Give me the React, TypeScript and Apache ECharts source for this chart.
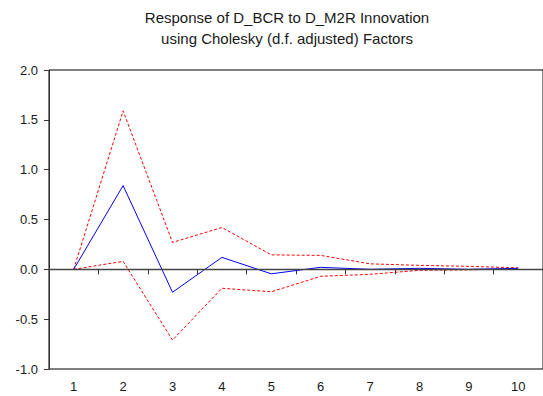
import React, { useEffect, useRef } from "react";
import * as echarts from "echarts";

const periods = ["1", "2", "3", "4", "5", "6", "7", "8", "9", "10"];
const response = [0, 0.84, -0.23, 0.12, -0.045, 0.02, 0.0, 0.01, 0.0, 0.01];
const upperBand = [0, 1.59, 0.27, 0.42, 0.145, 0.14, 0.055, 0.04, 0.03, 0.015];
const lowerBand = [0, 0.08, -0.71, -0.19, -0.225, -0.07, -0.05, -0.01, -0.005, 0.005];
const titleLines = ["Response of D_BCR to D_M2R Innovation", "using Cholesky (d.f. adjusted) Factors"];

export default function App() {
  const ref = useRef<HTMLDivElement>(null);
  useEffect(() => {
    if (!ref.current) return;
    const chart = echarts.init(ref.current, null, { renderer: "svg" });
    const font = "'Liberation Sans', Arial, sans-serif";
    chart.setOption({
      animation: false,
      title: {
        text: titleLines.join("\n"),
        left: 282,
        top: 2,
        textAlign: "center",
        textStyle: {
          fontFamily: font,
          fontSize: 15,
          fontWeight: "normal",
          color: "#1a1a1a",
          lineHeight: 21,
          align: "center",
        },
      },
      grid: {
        left: 49,
        top: 70,
        width: 496,
        height: 299,
        show: true,
        borderColor: "#000",
        borderWidth: 1,
        backgroundColor: "transparent",
      },
      xAxis: {
        type: "category",
        data: periods,
        boundaryGap: true,
        axisLine: { show: true, lineStyle: { color: "#333", width: 1 } },
        axisTick: { show: true, inside: false, alignWithLabel: false, length: 5, lineStyle: { color: "#333" } },
        axisLabel: { fontFamily: font, fontSize: 13, color: "#1a1a1a", margin: 11 },
        splitLine: { show: false },
      },
      yAxis: {
        type: "value",
        min: -1,
        max: 2,
        interval: 0.5,
        axisLine: { show: true, lineStyle: { color: "#333", width: 1 } },
        axisTick: { show: true, inside: false, length: 5, lineStyle: { color: "#333" } },
        axisLabel: {
          fontFamily: font,
          fontSize: 13,
          color: "#1a1a1a",
          margin: 11,
          formatter: (v: number) => v.toFixed(1),
        },
        splitLine: { show: false },
      },
      series: [
        {
          type: "line",
          data: upperBand,
          symbol: "none",
          lineStyle: { color: "#ff0000", width: 1, type: [3, 2] },
          markLine: {
            silent: true,
            symbol: "none",
            label: { show: false },
            lineStyle: { color: "#444", width: 1.3, type: "solid" },
            data: [{ yAxis: 0 }],
          },
          z: 3,
        },
        {
          type: "line",
          data: lowerBand,
          symbol: "none",
          lineStyle: { color: "#ff0000", width: 1, type: [3, 2] },
          z: 3,
        },
        {
          type: "line",
          data: response,
          symbol: "none",
          lineStyle: { color: "#0000ff", width: 1 },
          z: 4,
        },
      ],
    });
    return () => chart.dispose();
  }, []);
  return <div ref={ref} style={{ width: 543, height: 396, position: "absolute", left: 0, top: 0 }} />;
}
